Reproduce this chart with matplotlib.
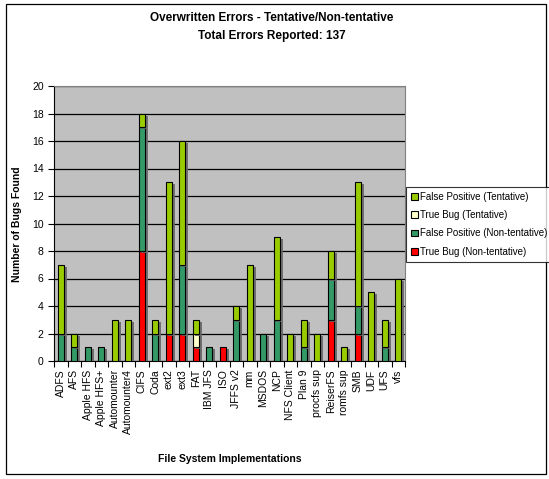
import matplotlib.pyplot as plt
import matplotlib.patheffects as pe
from matplotlib.patches import Rectangle, Patch
import numpy as np

plt.rcParams['font.family'] = ['Liberation Sans', 'DejaVu Sans']

systems = ['ADFS', 'AFS', 'Apple HFS', 'Apple HFS+', 'Automounter', 'Automounter4',
           'CIFS', 'Coda', 'ext2', 'ext3', 'FAT', 'IBM JFS', 'ISO', 'JFFS v2', 'mm',
           'MSDOS', 'NCP', 'NFS Client', 'Plan 9', 'procfs sup', 'ReiserFS',
           'romfs sup', 'SMB', 'UDF', 'UFS', 'vfs']

# stacked from the bottom up
true_bug_nt = [0, 0, 0, 0, 0, 0, 8, 0, 2, 2, 1, 0, 1, 0, 0, 0, 0, 0, 0, 0, 3, 0, 2, 0, 0, 0]
false_pos_nt = [2, 1, 1, 1, 0, 0, 9, 2, 0, 5, 0, 1, 0, 3, 0, 2, 3, 0, 1, 0, 3, 0, 2, 0, 1, 0]
true_bug_t = [0, 0, 0, 0, 0, 0, 0, 0, 0, 0, 1, 0, 0, 0, 0, 0, 0, 0, 0, 0, 0, 0, 0, 0, 0, 0]
false_pos_t = [5, 1, 0, 0, 3, 3, 1, 1, 11, 9, 1, 0, 0, 1, 7, 0, 6, 2, 2, 2, 2, 1, 9, 5, 2, 6]

series = [
    ('True Bug (Non-tentative)', true_bug_nt, '#FF0000'),
    ('False Positive (Non-tentative)', false_pos_nt, '#339966'),
    ('True Bug (Tentative)', true_bug_t, '#FFFFCC'),
    ('False Positive (Tentative)', false_pos_t, '#99CC00'),
]

fig = plt.figure(figsize=(5.49, 4.79), dpi=100)
ax = fig.add_axes([54 / 549, 1 - 361 / 479, 351 / 549, 275 / 479])
ax.set_facecolor('#C0C0C0')

x = np.arange(len(systems))
bottom = np.zeros(len(systems))
shadow = [pe.SimplePatchShadow(offset=(2, -1.5), shadow_rgbFace='#666666', alpha=0.9),
          pe.Normal()]
for label, vals, color in series:
    vals = np.array(vals, dtype=float)
    bars = ax.bar(x, vals, 0.45, bottom=bottom, color=color, edgecolor='black',
                  linewidth=0.8, zorder=3)
    for b, v in zip(bars, vals):
        if v > 0:
            b.set_path_effects(shadow)
        else:
            b.set_visible(False)
    bottom += vals

ax.set_xlim(-0.5, len(systems) - 0.5)
ax.set_ylim(0, 20)
ax.set_yticks(range(0, 21, 2))
ax.yaxis.grid(True, color='black', linewidth=0.9, zorder=1)
ax.set_axisbelow(True)

ax.set_xticks(x)
ax.set_xticklabels(systems, rotation=90, fontsize=7.5)
ax.set_xticks(np.arange(-0.5, len(systems)), minor=True)
ax.tick_params(axis='x', which='major', length=0, pad=6)
ax.tick_params(axis='x', which='minor', length=4, width=0.8, direction='out')
ax.tick_params(axis='y', labelsize=7.5, length=4, width=0.8, direction='out')

for side in ['top', 'right']:
    ax.spines[side].set_color('#808080')
for side in ['left', 'bottom']:
    ax.spines[side].set_color('black')

fig.text(17 / 549, 1 - 224 / 479, 'Number of Bugs Found', rotation=90,
         ha='center', va='center', fontsize=7.5, fontweight='bold')
fig.text(230 / 549, 1 - 459 / 479, 'File System Implementations',
         ha='center', va='center', fontsize=7.5, fontweight='bold')

fig.text(0.495, 1 - 12 / 479, 'Overwritten Errors - Tentative/Non-tentative\nTotal Errors Reported: 137',
         ha='center', va='top', fontsize=8.5, fontweight='bold', linespacing=1.7)

handles = [Patch(facecolor=c, edgecolor='black', linewidth=0.8, label=l)
           for l, _, c in series[::-1]]
leg = fig.legend(handles=handles, loc='upper left',
                 bbox_to_anchor=(406 / 549, 1 - 187 / 479), fontsize=7,
                 frameon=True, fancybox=False, edgecolor='black',
                 handlelength=0.7, handleheight=0.7, handletextpad=0.25,
                 borderpad=0.5, labelspacing=0.85, borderaxespad=0)
leg.get_frame().set_linewidth(0.8)

# outer chart border
fig.patches.append(Rectangle((6 / 549, 5 / 479), 540 / 549, 470 / 479,
                             transform=fig.transFigure, fill=False,
                             edgecolor='black', linewidth=0.9))

fig.savefig('out.png', dpi=100)
